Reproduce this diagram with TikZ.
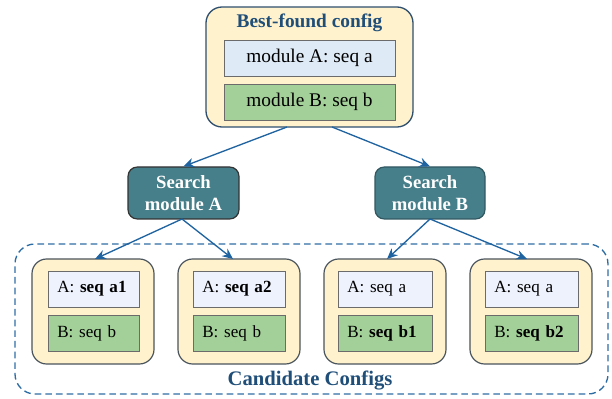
\documentclass[tikz,border=0pt]{standalone}
\usepackage{fontspec}
\setmainfont{Liberation Serif}
\usetikzlibrary{arrows.meta}
\definecolor{cfgfill}{HTML}{FFF2CC}
\definecolor{topborder}{HTML}{2F4F6F}
\definecolor{candborder}{HTML}{4A545C}
\definecolor{bluefill}{HTML}{DEEAF6}
\definecolor{lavfill}{HTML}{EEF2FC}
\definecolor{greenfill}{HTML}{A3D098}
\definecolor{innerborder}{HTML}{6B6B6B}
\definecolor{searchfill}{HTML}{467E8A}
\definecolor{titleblue}{HTML}{1F4E79}
\definecolor{arrowblue}{HTML}{1F63A0}
\definecolor{dashblue}{HTML}{2E6DA4}
\tikzset{
  wh/.style 2 args={minimum width=#1*0.75pt, minimum height=#2*0.75pt, inner sep=0pt},
  cfgbox/.style={draw=candborder, line width=0.9pt, fill=cfgfill, rounded corners=11pt},
  topbox/.style={draw=topborder, line width=1pt, fill=cfgfill, rounded corners=12pt},
  abox/.style={draw=innerborder, line width=0.7pt, fill=bluefill, font=\fontsize{14.5}{16}\selectfont},
  candA/.style={draw=innerborder, line width=0.7pt, fill=lavfill, font=\fontsize{12.8}{14}\selectfont, text width=#1*0.75pt-14pt, align=left},
  candB/.style={draw=innerborder, line width=0.7pt, fill=greenfill, font=\fontsize{12.8}{14}\selectfont, text width=#1*0.75pt-14pt, align=left},
  bbox/.style={draw=innerborder, line width=0.7pt, fill=greenfill, font=\fontsize{14.5}{16}\selectfont},
  searchbox/.style={draw=#1, line width=0.9pt, fill=searchfill, rounded corners=7pt, text=white, font=\bfseries\fontsize{14}{16}\selectfont, align=center},
  conn/.style={draw=arrowblue, line width=1pt, -{Stealth[length=8pt,width=7pt]}},
  titletext/.style={text=titleblue, font=\bfseries\fontsize{14.5}{16}\selectfont}
}
\begin{document}
\begin{tikzpicture}[x=0.75pt,y=-0.75pt]
\useasboundingbox (0,0) rectangle (612,399);
% dashed group
\node[draw=dashblue, dashed, dash pattern=on 5pt off 3pt, line width=1pt, rounded corners=15pt, wh={593}{150}] (group) at (311.5,319) {};
\node[titletext, font=\bfseries\fontsize{15.5}{17}\selectfont] (grouplabel) at (310,381) {Candidate Configs};
% top box
\node[topbox, wh={207}{120}] (top) at (309.5,67) {};
\node[titletext] (toptitle) at (309.5,23) {Best-found config};
\node[abox, wh={171}{36}] (topA) at (309.5,58) {module A: seq a};
\node[bbox, wh={171}{36}] (topB) at (309.5,102) {module B: seq b};
% search modules
\node[searchbox=black!80, wh={111}{52}] (sA) at (183.5,193) {Search\\[1pt]module A};
\node[searchbox=searchfill!70!black, wh={110}{52}] (sB) at (430,193) {Search\\[1pt]module B};
% candidate boxes
\node[cfgbox, wh={122}{105}] (c1) at (93,311.5) {};
\node[cfgbox, wh={122}{105}] (c2) at (239,311.5) {};
\node[cfgbox, wh={122}{105}] (c3) at (385,311.5) {};
\node[cfgbox, wh={122}{105}] (c4) at (531,311.5) {};
\node[candA=91, wh={91}{36}] (c1A) at (93.5,289) {A: \textbf{seq a1}};
\node[candB=91, wh={91}{36}] (c1B) at (93.5,333) {B: seq b};
\node[candA=92, wh={92}{36}] (c2A) at (239,289) {A: \textbf{seq a2}};
\node[candB=92, wh={92}{36}] (c2B) at (239,333) {B: seq b};
\node[candA=94, wh={94}{36}] (c3A) at (385,289) {A: seq a};
\node[candB=94, wh={94}{36}] (c3B) at (385,333) {B: \textbf{seq b1}};
\node[candA=93, wh={93}{36}] (c4A) at (531.5,289) {A: seq a};
\node[candB=93, wh={93}{36}] (c4B) at (531.5,333) {B: \textbf{seq b2}};
% connectors
\coordinate (tL) at (287,127);
\coordinate (tR) at (332,127);
\draw[conn] (tL) -- (sA.north);
\draw[conn] (tR) -- (sB.north);
\coordinate (aS) at (182,219);
\coordinate (bS) at (430,219);
\draw[conn] (aS) -- (95,259) coordinate (e1);
\draw[conn] (aS) -- (233,259) coordinate (e2);
\draw[conn] (bS) -- (387,259) coordinate (e3);
\draw[conn] (bS) -- (527,259) coordinate (e4);
\end{tikzpicture}
\end{document}
